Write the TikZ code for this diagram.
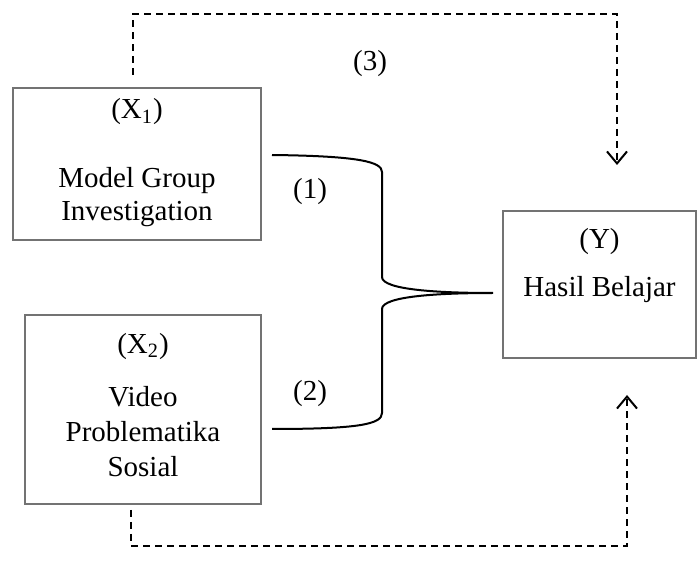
\documentclass[tikz,border=0pt]{standalone}
\usepackage{fontspec}
\setmainfont{Liberation Serif}
\usepackage{tikz}
\usetikzlibrary{arrows.meta,positioning,calc}

\begin{document}
\begin{tikzpicture}[
        x=0.5pt, y=-0.5pt,
        varbox/.style={rectangle, draw=black!55, line width=0.75pt, inner sep=0pt, outer sep=0pt},
        vartext/.style={align=center, font=\fontsize{14.5}{16.5}\selectfont},
        numlabel/.style={font=\fontsize{14.5}{16.5}\selectfont},
        brace/.style={draw, line width=1pt},
        dashline/.style={draw, line width=1pt, dash pattern=on 3.5pt off 2.5pt, -{Straight Barb[length=6pt,width=10pt,line width=1pt]}}
    ]
    \useasboundingbox (0,0) rectangle (697,572);

    % Variable boxes
    \node [varbox, minimum width=124pt, minimum height=76pt] (x1) at (137,164) {};
    \node [varbox, minimum width=118pt, minimum height=94.5pt] (x2) at (143,409.5) {};
    \node [varbox, minimum width=96.5pt, minimum height=73.5pt] (y) at (599.5,284.5) {};

    % Box texts
    \node [vartext] (x1txt) at (137,163) {(X\textsubscript{1})\\[18pt]Model Group\\Investigation};
    \node [vartext, font=\fontsize{14.5}{17.5}\selectfont] (x2txt) at (143,405) {(X\textsubscript{2})\\[9pt]Video\\Problematika\\Sosial};
    \node [vartext] (ytxt) at (599.5,266) {(Y)\\[7.5pt]Hasil Belajar};

    % Brace joining X1 and X2
    \coordinate (b1) at ($(x1.east)+(11,-9)$);
    \coordinate (b2) at ($(x2.east)+(11,19.5)$);
    \coordinate (tip) at ($(y.west)+(-10,8.5)$);
    \path [brace] (b1) .. controls (360,156) and (382,162) .. (382,172) -- (382,277)
        .. controls (382,290) and (440,293) .. (tip)
        .. controls (440,293) and (382,296) .. (382,309) -- (382,413)
        .. controls (382,424) and (360,429) .. (b2);

    % Simultaneous paths
    \coordinate (s1) at ($(x1.north)+(-4,-13)$);
    \coordinate (e1) at ($(y.north)+(17.5,-46)$);
    \coordinate (s2) at ($(x2.south)+(-12,6)$);
    \coordinate (e2) at ($(y.south)+(27.5,37)$);
    \path [dashline] (s1) -- ++(0,-61) -| (e1);
    \path [dashline] (s2) -- ++(0,36) -| (e2);

    % Path labels
    \node [numlabel] (lbl1) at (310,192) {(1)};
    \node [numlabel] (lbl2) at (310,394) {(2)};
    \node [numlabel] (lbl3) at (370,64) {(3)};

\end{tikzpicture}
\end{document}
